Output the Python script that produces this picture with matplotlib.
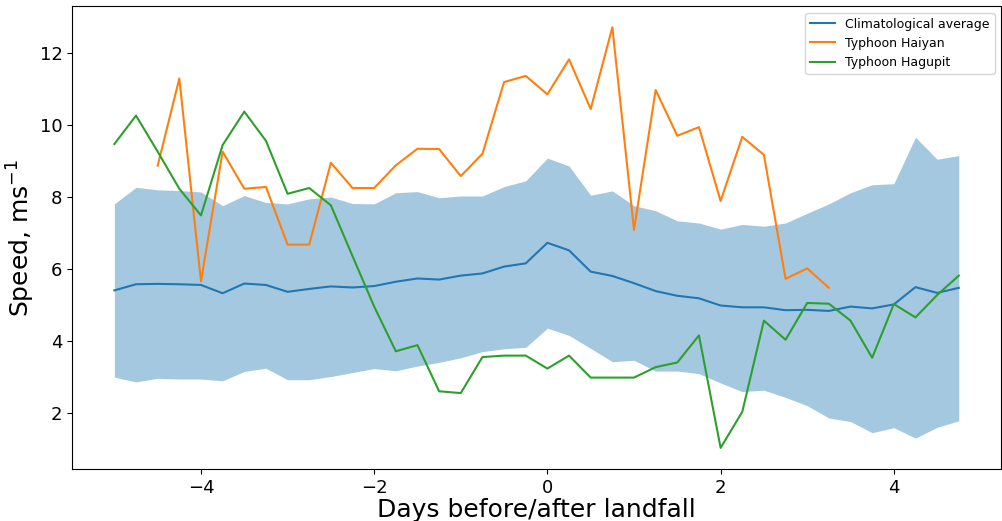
import numpy as np
import matplotlib
matplotlib.use("Agg")
import matplotlib.pyplot as plt

# Days relative to landfall
days = np.arange(-5, 5, 0.25)

clim_mean = [5.40, 5.57, 5.58, 5.57, 5.55, 5.32, 5.59, 5.55, 5.36, 5.44,
             5.51, 5.48, 5.52, 5.64, 5.73, 5.70, 5.81, 5.87, 6.06, 6.15,
             6.72, 6.51, 5.92, 5.80, 5.60, 5.38, 5.25, 5.18, 4.98, 4.93,
             4.93, 4.85, 4.86, 4.83, 4.95, 4.90, 5.01, 5.49, 5.33, 5.47]
clim_upper = [7.80, 8.26, 8.19, 8.17, 8.13, 7.75, 8.03, 7.84, 7.80, 7.94,
              7.99, 7.81, 7.80, 8.11, 8.14, 7.97, 8.02, 8.02, 8.28, 8.44,
              9.07, 8.85, 8.04, 8.16, 7.75, 7.61, 7.33, 7.27, 7.10, 7.23,
              7.18, 7.27, 7.54, 7.80, 8.11, 8.33, 8.36, 9.65, 9.04, 9.14]
clim_lower = [2.99, 2.86, 2.96, 2.94, 2.94, 2.89, 3.15, 3.24, 2.92, 2.92,
              3.01, 3.12, 3.23, 3.17, 3.30, 3.40, 3.53, 3.70, 3.78, 3.82,
              4.35, 4.15, 3.79, 3.42, 3.46, 3.16, 3.16, 3.09, 2.83, 2.59,
              2.63, 2.43, 2.20, 1.86, 1.76, 1.45, 1.59, 1.30, 1.60, 1.78]

# Haiyan: data from -4.5 to 3.25 days
haiyan_days = np.arange(-4.5, 3.5, 0.25)
haiyan = [8.86, 11.28, 5.65, 9.25, 8.22, 8.27, 6.67, 6.67, 8.94, 8.24,
          8.24, 8.87, 9.33, 9.32, 8.57, 9.19, 11.18, 11.35, 10.84, 11.81,
          10.43, 12.70, 7.08, 10.96, 9.69, 9.93, 7.88, 9.66, 9.16, 5.72,
          6.01, 5.47]

hagupit = [9.46, 10.25, 9.25, 8.22, 7.48, 9.43, 10.36, 9.55, 8.08, 8.24,
           7.76, 6.35, 4.95, 3.71, 3.88, 2.60, 2.55, 3.55, 3.59, 3.59,
           3.23, 3.59, 2.98, 2.98, 2.98, 3.27, 3.40, 4.15, 1.03, 2.03,
           4.56, 4.03, 5.05, 5.03, 4.56, 3.53, 5.02, 4.65, 5.27, 5.81]

fig, ax = plt.subplots(figsize=(10.02, 5.21), dpi=100)
fig.subplots_adjust(left=0.072, right=0.999, top=0.988, bottom=0.1)

ax.fill_between(days, clim_lower, clim_upper, color="C0", alpha=0.4, linewidth=0)
ax.plot(days, clim_mean, color="C0", label="Climatological average")
ax.plot(haiyan_days, haiyan, color="C1", label="Typhoon Haiyan")
ax.plot(days, hagupit, color="C2", label="Typhoon Hagupit")

ax.set_xlabel("Days before/after landfall", fontsize=18, labelpad=1)
ax.set_ylabel("Speed, ms$^{-1}$", fontsize=18, labelpad=2)
ax.tick_params(labelsize=13)
ax.legend(loc="upper right", fontsize=9)

fig.savefig("out.png", dpi=100)
